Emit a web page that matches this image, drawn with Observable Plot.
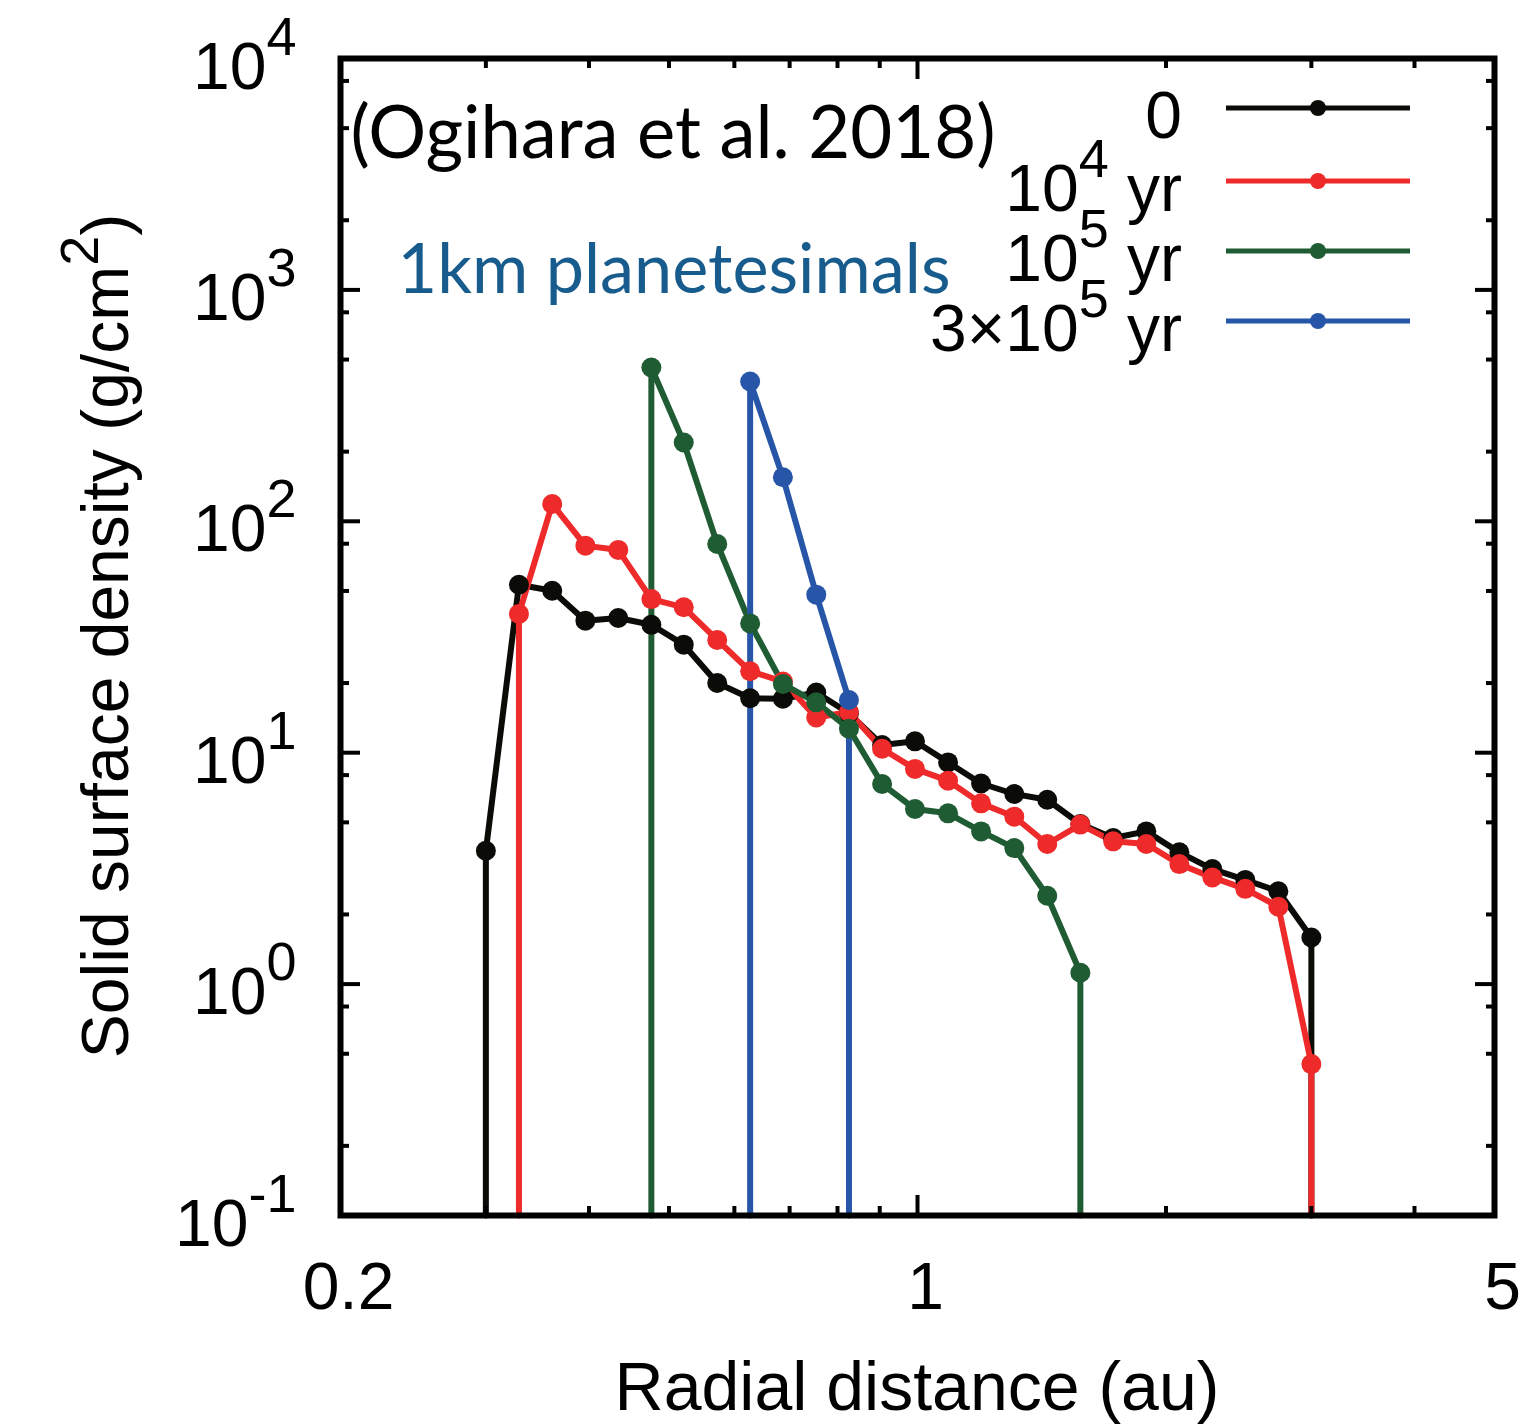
<!DOCTYPE html>
<html><head><meta charset="utf-8">
<script src="https://cdn.jsdelivr.net/npm/d3@7"></script>
<script src="https://cdn.jsdelivr.net/npm/@observablehq/plot@0.6"></script>
<style>
body{margin:0;background:#fff}
svg{display:block}
text{white-space:pre}
</style>
</head><body><div id="chart"></div>
<script>
// ---- data ----
const radius = [0.300, 0.329, 0.361, 0.396, 0.434, 0.476, 0.521, 0.572, 0.627, 0.687, 0.754, 0.826, 0.906,
                0.993, 1.089, 1.194, 1.310, 1.436, 1.575, 1.726, 1.893, 2.076, 2.276, 2.495, 2.736, 3.000];
const sigma0   = [3.77, 53.2, 50.1, 37.2, 38.2, 35.7, 29.3, 20.0, 17.2, 17.1, 18.2, 14.8, 10.8,
                  11.2, 9.08, 7.36, 6.63, 6.26, 4.92, 4.28, 4.57, 3.71, 3.14, 2.82, 2.52, 1.59];
const sigma1e4 = [null, 39.8, 118.8, 78.5, 75.2, 46.1, 42.5, 30.7, 22.5, 20.3, 14.2, 15.0, 10.4,
                  8.51, 7.57, 6.04, 5.29, 4.03, 4.89, 4.14, 4.03, 3.30, 2.89, 2.58, 2.16, 0.451];
const sigma1e5 = [null, null, null, null, null, 462, 219, 79.8, 36.2, 19.8, 16.5, 12.7, 7.32,
                  5.71, 5.47, 4.57, 3.87, 2.41, 1.12, null, null, null, null, null, null, null];
const sigma3e5 = [null, null, null, null, null, null, null, null, 402, 155, 48.2, 16.9, null,
                  null, null, null, null, null, null, null, null, null, null, null, null, null];
const floorValue = 0.1; // curves drop to the bottom of the axis outside the populated range

const seriesNames  = ["0", "10^{4} yr", "10^{5} yr", "3×10^{5} yr"];
const seriesValues = [sigma0, sigma1e4, sigma1e5, sigma3e5];
const seriesColors = ["#0b0b07", "#ee2a2a", "#1f5c33", "#2756a8"];

const xTickLabels = [0.2, 1, 5];
const xMajorTicks = [1];
const xMinorTicks = [0.3, 0.4, 0.5, 0.6, 0.7, 0.8, 0.9, 2, 3, 4];
const yMajorTicks = [0.1, 1, 10, 100, 1000, 10000];
const yTickExp    = ["-1", "0", "1", "2", "3", "4"];
const yMinorTicks = [0.2, 0.5, 0.8, 2, 5, 8, 20, 50, 80, 200, 500, 800, 2000, 5000, 8000];

const citation = "(Ogihara et al. 2018)";
const note = "1km planetesimals";
const xTitle = "Radial distance (au)";
const yTitle = "Solid surface density (g/cm^{2})";

// ---- build tables ----
const series = seriesNames.map((name, k) => {
  const pts = [];
  seriesValues[k].forEach((v, i) => { if (v != null) pts.push({x: radius[i], y: v, name}); });
  const line = [{x: pts[0].x, y: floorValue}, ...pts, {x: pts[pts.length - 1].x, y: floorValue}];
  return {name, color: seriesColors[k], pts, line};
});

const FONT = "'Liberation Sans', Arial, Helvetica, sans-serif";
const SANS2 = "Lato, 'Open Sans', sans-serif";

const tickOpts = (anchor, size) => ({anchor, tickSize: size, fill: "none", stroke: "#000", strokeWidth: 4, label: null});

const plot = Plot.plot({
  width: 1536, height: 1424,
  marginLeft: 340, marginRight: 42, marginTop: 58, marginBottom: 209,
  x: {type: "log", domain: [0.2, 5]},
  y: {type: "log", domain: [0.1, 10000]},
  style: {fontFamily: FONT, background: "#fff", color: "#000"},
  marks: [
    ...series.map(s => Plot.line(s.line, {x: "x", y: "y", stroke: s.color, strokeWidth: 6, strokeLinejoin: "round"})),
    ...series.map(s => Plot.dot(s.pts, {x: "x", y: "y", fill: s.color, r: 10})),
    Plot.axisX(xMajorTicks, tickOpts("bottom", -20)),
    Plot.axisX(xMinorTicks, tickOpts("bottom", -9)),
    Plot.axisX(xMajorTicks, tickOpts("top", -20)),
    Plot.axisX(xMinorTicks, tickOpts("top", -9)),
    Plot.axisY(yMajorTicks, tickOpts("left", -20)),
    Plot.axisY(yMinorTicks, tickOpts("left", -9)),
    Plot.axisY(yMajorTicks, tickOpts("right", -20)),
    Plot.axisY(yMinorTicks, tickOpts("right", -9)),
    Plot.text(xTickLabels, {x: d => d, frameAnchor: "bottom", text: d => String(d), textAnchor: "middle",
      lineAnchor: "bottom", dx: 8, dy: 93, fontSize: 66, fill: "#000"}),
    Plot.text(yMajorTicks, {y: d => d, frameAnchor: "left", text: (d, i) => "10^{" + yTickExp[i] + "}",
      textAnchor: "end", lineAnchor: "bottom", dx: -44, dy: 30, fontSize: 66, fill: "#000"}),
    Plot.text([citation], {frameAnchor: "top-left", text: d => d, textAnchor: "start", lineAnchor: "bottom",
      dx: 10, dy: 99, fontSize: 74, fontFamily: SANS2, fill: "#000"}),
    Plot.text([note], {frameAnchor: "top-left", text: d => d, textAnchor: "start", lineAnchor: "bottom",
      dx: 57, dy: 234, fontSize: 70, fontFamily: SANS2, fill: "#175c8c"}),
    Plot.frame({stroke: "#000", strokeWidth: 6})
  ]
});

// rich-text helper: "10^{4} yr" -> tspans with raised exponent
function rich(el, str, supSize, rise) {
  const t = d3.select(el);
  t.text(null);
  const parts = str.split(/\^\{|\}/);
  let up = false;
  parts.forEach((p, i) => {
    if (p === "") return;
    const ts = t.append("tspan").text(p);
    if (i % 2 === 1) { ts.attr("font-size", supSize).attr("dy", -rise); up = true; }
    else if (up) { ts.attr("dy", rise); up = false; }
  });
}

const svg = d3.select(plot);
svg.selectAll("text").each(function() {
  const s = this.textContent;
  if (s.includes("^{")) rich(this, s, 54, 34);
  // narrower humanist face in the reference: fit the annotations to their widths
  if (s === citation) d3.select(this).attr("textLength", 645).attr("lengthAdjust", "spacingAndGlyphs");
  if (s === note) d3.select(this).attr("textLength", 553).attr("lengthAdjust", "spacingAndGlyphs");
});

// legend
const legX = {labelRight: 1182, lineStart: 1226, lineEnd: 1410, dot: 1318};
const legRows = [108, 181, 251, 321];
const leg = svg.append("g");
series.forEach((s, i) => {
  const y = legRows[i];
  leg.append("line").attr("x1", legX.lineStart).attr("x2", legX.lineEnd).attr("y1", y).attr("y2", y)
    .attr("stroke", s.color).attr("stroke-width", 5);
  leg.append("circle").attr("cx", legX.dot).attr("cy", y).attr("r", 8).attr("fill", s.color);
  const t = leg.append("text").attr("x", legX.labelRight).attr("y", y + 30).attr("text-anchor", "end")
    .attr("font-family", FONT).attr("font-size", 66).attr("fill", "#000");
  rich(t.node(), s.name, 54, 34);
});

// axis titles
svg.append("text").attr("x", 917).attr("y", 1410).attr("text-anchor", "middle")
  .attr("font-family", FONT).attr("font-size", 68).attr("fill", "#000").text(xTitle);
const yt = svg.append("text").attr("transform", "translate(128,636) rotate(-90)").attr("text-anchor", "middle")
  .attr("font-family", FONT).attr("font-size", 66).attr("fill", "#000");
rich(yt.node(), yTitle, 54, 30);

document.getElementById("chart").appendChild(plot);
</script>
</body></html>
